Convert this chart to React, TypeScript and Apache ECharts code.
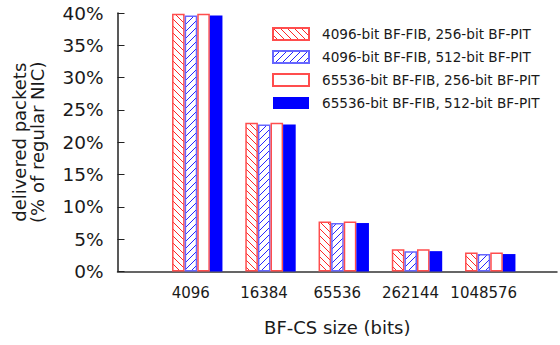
import React, { useEffect, useRef } from "react";
import * as echarts from "echarts";

const categories = ["4096", "16384", "65536", "262144", "1048576"];
const seriesNames = [
  "4096-bit BF-FIB, 256-bit BF-PIT",
  "4096-bit BF-FIB, 512-bit BF-PIT",
  "65536-bit BF-FIB, 256-bit BF-PIT",
  "65536-bit BF-FIB, 512-bit BF-PIT",
];
const fib4096pit256 = [39.9, 23.0, 7.75, 3.45, 2.95];
const fib4096pit512 = [39.6, 22.75, 7.5, 3.15, 2.7];
const fib65536pit256 = [39.9, 23.0, 7.75, 3.45, 2.95];
const fib65536pit512 = [39.6, 22.75, 7.5, 3.15, 2.7];
const yTicks = [0, 5, 10, 15, 20, 25, 30, 35, 40];

const FONT = "DejaVu Sans";

function makeHatch(color: string, backslash: boolean) {
  const size = 7;
  const c = document.createElement("canvas");
  c.width = size;
  c.height = size;
  const ctx = c.getContext("2d")!;
  ctx.fillStyle = "#ffffff";
  ctx.fillRect(0, 0, size, size);
  ctx.fillStyle = color;
  for (let i = 0; i < size; i++) {
    const y = backslash ? i : size - 1 - i;
    ctx.fillRect(i, y, 1, 1);
  }
  return c;
}

export default function App() {
  const ref = useRef<HTMLDivElement>(null);
  useEffect(() => {
    if (!ref.current) return;
    const chart = echarts.init(ref.current, undefined, { renderer: "svg" });
    // empty slots at both ends of the axis, like gnuplot's xrange [-1:5]
    const axisCats = ["", ...categories, ""];
    const pad = (arr: (number | string)[]) => ["-", ...arr, "-"];
    const redHatch = { image: makeHatch("rgba(255,0,0,0.85)", true), repeat: "repeat" };
    const blueHatch = { image: makeHatch("rgba(0,0,255,0.85)", false), repeat: "repeat" };
    const styles = [
      { color: redHatch, borderColor: "#ff4d4d", borderWidth: 1.5 },
      { color: blueHatch, borderColor: "#6666ff", borderWidth: 1.5 },
      { color: "#ffffff", borderColor: "#ff4d4d", borderWidth: 1.5 },
      { color: "#0000ff", borderWidth: 0 },
    ];
    const values = [fib4096pit256, fib4096pit512, fib65536pit256, fib65536pit512];
    const spacer = {
      type: "bar",
      name: "spacer",
      data: pad(categories.map(() => "-")),
      barWidth: 13,
      silent: true,
      itemStyle: { color: "transparent" },
    };
    chart.setOption({
      animation: false,
      grid: { left: 117.5, top: 13, width: 444, height: 258.5 },
      legend: {
        orient: "vertical",
        left: 272,
        top: 27,
        padding: 0,
        icon: "rect",
        itemWidth: 36,
        itemHeight: 12,
        itemGap: 9,
        selectedMode: false,
        data: seriesNames,
        textStyle: {
          fontFamily: FONT,
          fontSize: 13.6,
          color: "#1a1a1a",
          lineHeight: 12,
          padding: [0, 0, 0, 8],
        },
      },
      xAxis: {
        type: "category",
        data: axisCats,
        boundaryGap: false,
        name: "BF-CS size (bits)",
        nameLocation: "middle",
        nameGap: 47,
        nameTextStyle: { fontFamily: FONT, fontSize: 18, color: "#1a1a1a" },
        axisLine: { show: true, onZero: false, lineStyle: { color: "#333", width: 1.5 } },
        axisTick: { show: false },
        splitLine: { show: false },
        axisLabel: {
          interval: 0,
          fontFamily: FONT,
          fontSize: 15,
          color: "#1a1a1a",
          margin: 14,
        },
      },
      yAxis: {
        type: "value",
        min: yTicks[0],
        max: yTicks[yTicks.length - 1],
        interval: 5,
        name: "delivered packets\n(% of regular NIC)",
        nameLocation: "middle",
        nameGap: 71,
        nameTextStyle: { fontFamily: FONT, fontSize: 18, color: "#1a1a1a", lineHeight: 18 },
        axisLine: { show: true, lineStyle: { color: "#222", width: 1.5 } },
        axisTick: { show: true, inside: true, length: 7, lineStyle: { color: "#222", width: 1 } },
        splitLine: { show: false },
        axisLabel: {
          fontFamily: FONT,
          fontSize: 18.5,
          color: "#1a1a1a",
          margin: 14,
          formatter: "{value}%",
        },
      },
      series: [
        spacer,
        ...values.map((arr, k) => ({
          type: "bar",
          name: seriesNames[k],
          data: pad(arr),
          barWidth: 12.6,
          barGap: "0%",
          itemStyle: styles[k],
        })),
      ],
    });
    return () => chart.dispose();
  }, []);
  return (
    <div
      ref={ref}
      style={{ position: "absolute", left: 0, top: 0, width: 560, height: 345 }}
    />
  );
}
